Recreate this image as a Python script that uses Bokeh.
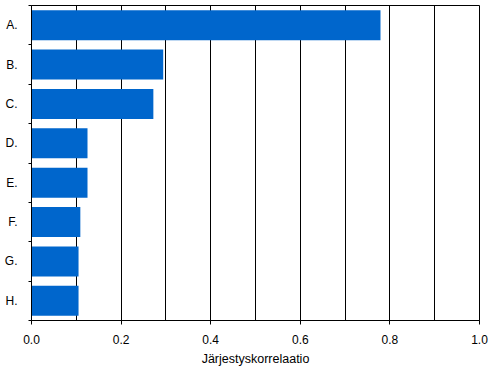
from bokeh.plotting import figure
from bokeh.models import FixedTicker, Range1d, NumeralTickFormatter, ColumnDataSource
from bokeh.embed import file_html
from bokeh.resources import INLINE

categories = ["A.", "B.", "C.", "D.", "E.", "F.", "G.", "H."]
values = [0.779, 0.294, 0.272, 0.125, 0.125, 0.109, 0.105, 0.105]
x_ticks = [0.0, 0.2, 0.4, 0.6, 0.8, 1.0]
x_grid = [0.1, 0.2, 0.3, 0.4, 0.5, 0.6, 0.7, 0.8, 0.9]
x_title = "Järjestyskorrelaatio"

n = len(categories)
centers = [i + 0.5 for i in range(n)]
bounds = [float(i) for i in range(n + 1)]

src = ColumnDataSource(data=dict(y=centers, value=values, cat=categories))

p = figure(width=496, height=376, output_backend="svg", toolbar_location=None,
           x_range=Range1d(0, 1), y_range=Range1d(n, 0),
           min_border_left=31, min_border_right=17, min_border_top=5, min_border_bottom=56)

p.hbar(y="y", left=0, right="value", height=0.76, source=src,
       fill_color="#0066CC", line_color=None)

FONT = "Liberation Sans"

p.outline_line_color = "black"
p.outline_line_width = 1

p.xgrid.ticker = FixedTicker(ticks=x_grid)
p.xgrid.grid_line_color = "black"
p.xgrid.grid_line_width = 1
p.ygrid.grid_line_color = None

xa = p.xaxis[0]
xa.ticker = FixedTicker(ticks=x_ticks)
xa.formatter = NumeralTickFormatter(format="0.0")
xa.axis_line_color = "black"
xa.major_tick_line_color = "black"
xa.major_tick_out = 4
xa.major_tick_in = 0
xa.minor_tick_line_color = None
xa.major_label_text_font = FONT
xa.major_label_text_font_size = "12px"
xa.major_label_text_color = "black"
xa.major_label_standoff = 10
xa.axis_label = x_title
xa.axis_label_text_font = FONT
xa.axis_label_text_font_size = "12.5px"
xa.axis_label_text_font_style = "normal"
xa.axis_label_text_color = "black"
xa.axis_label_standoff = 5

ya = p.yaxis[0]
ya.ticker = FixedTicker(ticks=centers, minor_ticks=bounds)
ya.major_label_overrides = {c: lab for c, lab in zip(centers, categories)}
ya.axis_line_color = "black"
ya.major_tick_line_color = None
ya.major_tick_out = 0
ya.major_tick_in = 0
ya.minor_tick_line_color = "black"
ya.minor_tick_out = 3
ya.minor_tick_in = 0
ya.major_label_text_font = FONT
ya.major_label_text_font_size = "12px"
ya.major_label_text_color = "black"
ya.major_label_standoff = 11

open("out.html", "w").write(file_html(p, INLINE))
